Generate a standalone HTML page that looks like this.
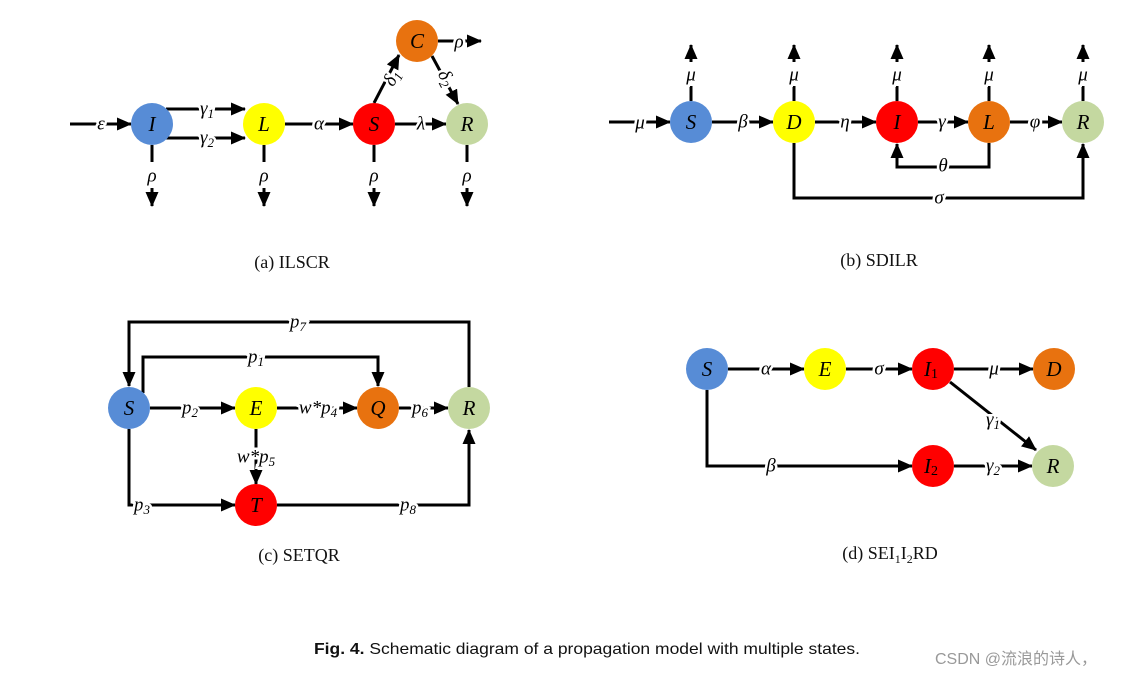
<!DOCTYPE html>
<html><head><meta charset="utf-8"><style>
html,body{margin:0;padding:0;background:#fff}
svg{display:block}
.l{font-family:"Liberation Serif",serif;font-style:italic;font-size:19px;fill:#000;stroke:#fff;stroke-width:5px;paint-order:stroke;text-anchor:middle;dominant-baseline:central}
.n{font-family:"Liberation Serif",serif;font-style:italic;font-size:21px;fill:#000;text-anchor:middle;dominant-baseline:central}
.cap{font-family:"Liberation Serif",serif;font-size:18px;fill:#111;text-anchor:middle}
path,line{stroke:#000;stroke-width:3;fill:none}
</style></head><body>
<svg width="1132" height="677" viewBox="0 0 1132 677" xmlns="http://www.w3.org/2000/svg">
<defs><marker id="a" markerUnits="userSpaceOnUse" markerWidth="15" markerHeight="13" refX="14" refY="6.5" orient="auto"><path d="M0,0 L15,6.5 L0,13 Z" style="fill:#000;stroke:none"/></marker></defs>

<!-- (a) -->
<g>
<line x1="70" y1="124" x2="131" y2="124" marker-end="url(#a)"/>
<line x1="166" y1="109" x2="245" y2="109" marker-end="url(#a)"/>
<line x1="166" y1="138" x2="245" y2="138" marker-end="url(#a)"/>
<line x1="285" y1="124" x2="353" y2="124" marker-end="url(#a)"/>
<line x1="395" y1="124" x2="446" y2="124" marker-end="url(#a)"/>
<line x1="374" y1="103" x2="399" y2="55" marker-end="url(#a)"/>
<line x1="432" y1="56" x2="458" y2="104" marker-end="url(#a)"/>
<line x1="438" y1="41" x2="481" y2="41" marker-end="url(#a)"/>
<path d="M152 145 V162 M152 188 V206" marker-end="url(#a)"/>
<path d="M264 145 V162 M264 188 V206" marker-end="url(#a)"/>
<path d="M374 145 V162 M374 188 V206" marker-end="url(#a)"/>
<path d="M467 145 V162 M467 188 V206" marker-end="url(#a)"/>
<circle cx="152" cy="124" r="21" fill="#578CD6"/><text class="n" x="152" y="124">I</text>
<circle cx="264" cy="124" r="21" fill="#FFFF00"/><text class="n" x="264" y="124">L</text>
<circle cx="374" cy="124" r="21" fill="#FF0000"/><text class="n" x="374" y="124">S</text>
<circle cx="467" cy="124" r="21" fill="#C4D8A0"/><text class="n" x="467" y="124">R</text>
<circle cx="417" cy="41" r="21" fill="#E8720F"/><text class="n" x="417" y="41">C</text>
<text class="l" x="101" y="124">ε</text>
<text class="l" x="207" y="109">γ<tspan font-size="13" dy="4">1</tspan></text>
<text class="l" x="207" y="138">γ<tspan font-size="13" dy="4">2</tspan></text>
<text class="l" x="319" y="124">α</text>
<text class="l" x="421" y="124">λ</text>
<text class="l" x="392" y="78" transform="rotate(-62 392 78)">δ<tspan font-size="13" dy="4">1</tspan></text>
<text class="l" x="446" y="78" transform="rotate(62 446 78)">δ<tspan font-size="13" dy="4">2</tspan></text>
<text class="l" x="459" y="42">ρ</text>
<text class="l" x="152" y="176">ρ</text><text class="l" x="264" y="176">ρ</text><text class="l" x="374" y="176">ρ</text><text class="l" x="467" y="176">ρ</text>
<text class="cap" x="292" y="268">(a) ILSCR</text>
</g>

<!-- (b) -->
<g>
<line x1="609" y1="122" x2="670" y2="122" marker-end="url(#a)"/>
<line x1="712" y1="122" x2="773" y2="122" marker-end="url(#a)"/>
<line x1="815" y1="122" x2="876" y2="122" marker-end="url(#a)"/>
<line x1="918" y1="122" x2="968" y2="122" marker-end="url(#a)"/>
<line x1="1010" y1="122" x2="1062" y2="122" marker-end="url(#a)"/>
<path d="M989 143 V167 H897 V144" marker-end="url(#a)"/>
<path d="M794 143 V198 H1083 V144" marker-end="url(#a)"/>
<path d="M691 101 V86 M691 62 V45" marker-end="url(#a)"/>
<path d="M794 101 V86 M794 62 V45" marker-end="url(#a)"/>
<path d="M897 101 V86 M897 62 V45" marker-end="url(#a)"/>
<path d="M989 101 V86 M989 62 V45" marker-end="url(#a)"/>
<path d="M1083 101 V86 M1083 62 V45" marker-end="url(#a)"/>
<circle cx="691" cy="122" r="21" fill="#578CD6"/><text class="n" x="691" y="122">S</text>
<circle cx="794" cy="122" r="21" fill="#FFFF00"/><text class="n" x="794" y="122">D</text>
<circle cx="897" cy="122" r="21" fill="#FF0000"/><text class="n" x="897" y="122">I</text>
<circle cx="989" cy="122" r="21" fill="#E8720F"/><text class="n" x="989" y="122">L</text>
<circle cx="1083" cy="122" r="21" fill="#C4D8A0"/><text class="n" x="1083" y="122">R</text>
<text class="l" x="640" y="123">μ</text>
<text class="l" x="743" y="122">β</text>
<text class="l" x="845" y="122">η</text>
<text class="l" x="942" y="122">γ</text>
<text class="l" x="1035" y="122">φ</text>
<text class="l" x="943" y="166">θ</text>
<text class="l" x="939" y="198">σ</text>
<text class="l" x="691" y="75">μ</text><text class="l" x="794" y="75">μ</text><text class="l" x="897" y="75">μ</text><text class="l" x="989" y="75">μ</text><text class="l" x="1083" y="75">μ</text>
<text class="cap" x="879" y="266">(b) SDILR</text>
</g>

<!-- (c) -->
<g>
<path d="M469 387 V322 H129 V386" marker-end="url(#a)"/>
<path d="M143 393 V357 H378 V386" marker-end="url(#a)"/>
<line x1="150" y1="408" x2="235" y2="408" marker-end="url(#a)"/>
<line x1="277" y1="408" x2="357" y2="408" marker-end="url(#a)"/>
<line x1="399" y1="408" x2="448" y2="408" marker-end="url(#a)"/>
<path d="M256 429 V484" marker-end="url(#a)"/>
<path d="M129 429 V505 H235" marker-end="url(#a)"/>
<path d="M277 505 H469 V430" marker-end="url(#a)"/>
<circle cx="129" cy="408" r="21" fill="#578CD6"/><text class="n" x="129" y="408">S</text>
<circle cx="256" cy="408" r="21" fill="#FFFF00"/><text class="n" x="256" y="408">E</text>
<circle cx="378" cy="408" r="21" fill="#E8720F"/><text class="n" x="378" y="408">Q</text>
<circle cx="469" cy="408" r="21" fill="#C4D8A0"/><text class="n" x="469" y="408">R</text>
<circle cx="256" cy="505" r="21" fill="#FF0000"/><text class="n" x="256" y="505">T</text>
<text class="l" x="298" y="322">p<tspan font-size="13" dy="4">7</tspan></text>
<text class="l" x="256" y="357">p<tspan font-size="13" dy="4">1</tspan></text>
<text class="l" x="190" y="408">p<tspan font-size="13" dy="4">2</tspan></text>
<text class="l" x="318" y="408">w*p<tspan font-size="13" dy="4">4</tspan></text>
<text class="l" x="420" y="408">p<tspan font-size="13" dy="4">6</tspan></text>
<text class="l" x="256" y="457">w*p<tspan font-size="13" dy="4">5</tspan></text>
<text class="l" x="142" y="505">p<tspan font-size="13" dy="4">3</tspan></text>
<text class="l" x="408" y="505">p<tspan font-size="13" dy="4">8</tspan></text>
<text class="cap" x="299" y="561">(c) SETQR</text>
</g>

<!-- (d) -->
<g>
<line x1="728" y1="369" x2="804" y2="369" marker-end="url(#a)"/>
<line x1="846" y1="369" x2="912" y2="369" marker-end="url(#a)"/>
<line x1="954" y1="369" x2="1033" y2="369" marker-end="url(#a)"/>
<line x1="950" y1="382" x2="1036" y2="450" marker-end="url(#a)"/>
<path d="M707 390 V466 H912" marker-end="url(#a)"/>
<line x1="954" y1="466" x2="1032" y2="466" marker-end="url(#a)"/>
<circle cx="707" cy="369" r="21" fill="#578CD6"/><text class="n" x="707" y="369">S</text>
<circle cx="825" cy="369" r="21" fill="#FFFF00"/><text class="n" x="825" y="369">E</text>
<circle cx="933" cy="369" r="21" fill="#FF0000"/><text class="n" x="931" y="369">I<tspan font-size="14" dy="5" font-style="normal">1</tspan></text>
<circle cx="1054" cy="369" r="21" fill="#E8720F"/><text class="n" x="1054" y="369">D</text>
<circle cx="933" cy="466" r="21" fill="#FF0000"/><text class="n" x="931" y="466">I<tspan font-size="14" dy="5" font-style="normal">2</tspan></text>
<circle cx="1053" cy="466" r="21" fill="#C4D8A0"/><text class="n" x="1053" y="466">R</text>
<text class="l" x="766" y="369">α</text>
<text class="l" x="879" y="369">σ</text>
<text class="l" x="994" y="369">μ</text>
<text class="l" x="993" y="420">γ<tspan font-size="13" dy="4">1</tspan></text>
<text class="l" x="771" y="466">β</text>
<text class="l" x="993" y="466">γ<tspan font-size="13" dy="4">2</tspan></text>
<text class="cap" x="890" y="559">(d) SEI<tspan font-size="12" dy="4">1</tspan><tspan dy="-4">I</tspan><tspan font-size="12" dy="4">2</tspan><tspan dy="-4">RD</tspan></text>
</g>

<text x="314" y="654" style="font-family:'Liberation Sans Narrow','Liberation Sans',sans-serif;font-size:16px;fill:#111" textLength="546" lengthAdjust="spacingAndGlyphs"><tspan font-weight="bold">Fig. 4.</tspan> Schematic diagram of a propagation model with multiple states.</text>
<text x="935" y="664" style="font-family:'Liberation Sans','Noto Sans CJK SC',sans-serif;font-size:16px;fill:#999">CSDN @流浪的诗人，</text>
</svg>
</body></html>
